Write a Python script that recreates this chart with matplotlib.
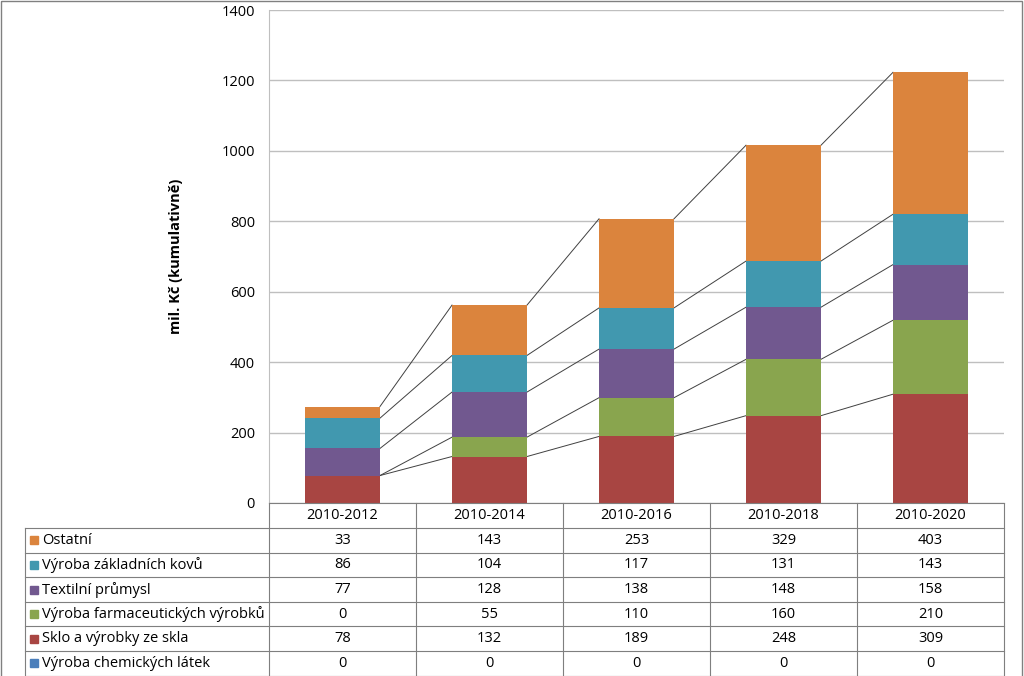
import numpy as np
import matplotlib.pyplot as plt
from matplotlib.patches import Rectangle

plt.rcParams['font.family'] = ['Open Sans', 'DejaVu Sans']

periods = ["2010-2012", "2010-2014", "2010-2016", "2010-2018", "2010-2020"]
# bottom to top of the stack
series = ["Výroba chemických látek", "Sklo a výrobky ze skla",
          "Výroba farmaceutických výrobků", "Textilní průmysl",
          "Výroba základních kovů", "Ostatní"]
chem = [0, 0, 0, 0, 0]
sklo = [78, 132, 189, 248, 309]
farma = [0, 55, 110, 160, 210]
textil = [77, 128, 138, 148, 158]
kovy = [86, 104, 117, 131, 143]
ostatni = [33, 143, 253, 329, 403]
values = [chem, sklo, farma, textil, kovy, ostatni]
colors = ["#4A7EBB", "#A84542", "#89A54E", "#71588F", "#4198AF", "#DB843D"]

W, H = 1024, 676
fig = plt.figure(figsize=(W / 100, H / 100), dpi=100)

# plot area in pixels
x0, x1 = 269, 1004
y_top, y_bot = 10, 503
ax = fig.add_axes([x0 / W, 1 - y_bot / H, (x1 - x0) / W, (y_bot - y_top) / H])

n = len(periods)
x = np.arange(n)
bw = 0.51
bottom = np.zeros(n)
for vals, c in zip(values, colors):
    v = np.array(vals, dtype=float)
    ax.bar(x, v, bw, bottom=bottom, color=c, zorder=3)
    top = bottom + v
    # series lines between bars
    for i in range(n - 1):
        ax.plot([x[i] + bw / 2, x[i + 1] - bw / 2], [top[i], top[i + 1]],
                color="#404040", lw=0.7, zorder=2)
    bottom = top

ax.set_xlim(-0.5, n - 0.5)
ax.set_ylim(0, 1400)
ax.set_yticks(range(0, 1401, 200))
ax.yaxis.grid(True, color="#BFBFBF", lw=1, zorder=0)
ax.set_xticks([])
for s in ["top", "right", "bottom"]:
    ax.spines[s].set_visible(False)
ax.spines["left"].set_color("#BFBFBF")
ax.tick_params(axis="y", length=0, labelsize=10.5, pad=10)
ax.set_ylabel("mil. Kč (kumulativně)", fontsize=10.5, fontweight="bold", labelpad=28)

# data table drawn in figure pixel coordinates
tab = fig.add_axes([0, 0, 1, 1])
tab.set_xlim(0, W)
tab.set_ylim(H, 0)
tab.axis("off")
tab.patch.set_alpha(0)

line_c = "#7F7F7F"
col_w = (x1 - x0) / n
row_h = 24.6
y_head = y_bot
y_rows = y_bot + 25
t_left = 25

# horizontal lines
tab.plot([x0, x1], [y_head, y_head], color=line_c, lw=0.8)
for r in range(7):
    yy = y_rows + r * row_h
    tab.plot([t_left, x1], [yy, yy], color=line_c, lw=0.8)
# vertical lines
tab.plot([t_left, t_left], [y_rows, y_rows + 6 * row_h], color=line_c, lw=0.8)
for k in range(n + 1):
    xx = x0 + k * col_w
    tab.plot([xx, xx], [y_head, y_rows + 6 * row_h], color=line_c, lw=0.8)

for k, p in enumerate(periods):
    tab.text(x0 + (k + 0.5) * col_w, y_head + 12.5, p, ha="center", va="center", fontsize=10.5)

# table rows top to bottom = stack top to bottom
for r, (name, vals, c) in enumerate(zip(series[::-1], values[::-1], colors[::-1])):
    yc = y_rows + (r + 0.5) * row_h
    tab.add_patch(Rectangle((t_left + 5, yc - 4), 8, 8, color=c))
    tab.text(t_left + 17, yc, name, ha="left", va="center", fontsize=10.5)
    for k, v in enumerate(vals):
        tab.text(x0 + (k + 0.5) * col_w, yc, str(v), ha="center", va="center", fontsize=10.5)

# outer chart border
tab.add_patch(Rectangle((0.5, 0.5), W - 3, H + 5, fill=False, ec="#808080", lw=1))

fig.savefig("out.png", dpi=100)
